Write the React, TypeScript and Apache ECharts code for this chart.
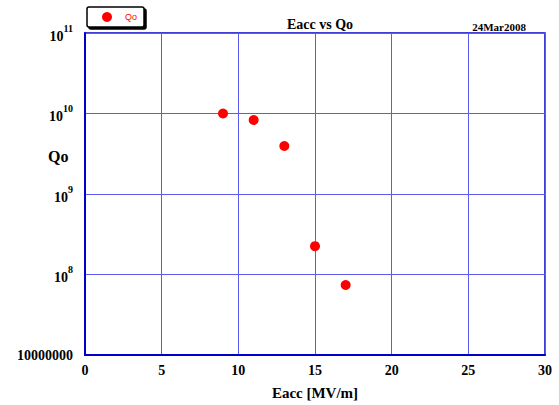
import React, { useEffect, useRef } from "react";
import * as echarts from "echarts";

// Eacc [MV/m] vs Qo measurements
const eacc = [9, 11, 13, 15, 17];
const qo = [1.0e10, 8.3e9, 3.95e9, 2.25e8, 7.4e7];
const seriesName = "Qo";
const titleText = "Eacc vs Qo";
const dateText = "24Mar2008";
const xName = "Eacc [MV/m]";
const yName = "Qo";

const blue = "#0000cc";
const gridBlue = "#5b5bf0";
const serif = "'Liberation Serif', 'Times New Roman', serif";

function yLabel(v: number): string {
  const e = Math.round(Math.log10(v));
  if (e === 7) return "10000000";
  return "{b|10}{s|" + e + "}";
}

export default function App() {
  const ref = useRef<HTMLDivElement>(null);
  useEffect(() => {
    if (!ref.current) return;
    const chart = echarts.init(ref.current, null, { renderer: "svg" });
    chart.setOption({
      animation: false,
      backgroundColor: "#ffffff",
      grid: {
        left: 85,
        right: 14,
        top: 33,
        bottom: 48,
        containLabel: false,
        show: true,
        borderColor: blue,
        borderWidth: 1.5,
      },
      title: [
        {
          text: titleText,
          left: 315,
          top: 12,
          textAlign: "center",
          textStyle: { fontFamily: serif, fontSize: 14, fontWeight: "bold", color: "#000" },
        },
        {
          text: dateText,
          left: 494,
          top: 16,
          textAlign: "center",
          textStyle: { fontFamily: serif, fontSize: 11, fontWeight: "bold", color: "#000" },
        },
      ],
      graphic: [
        {
          type: "text",
          left: 48,
          top: 148,
          style: { text: yName, fontFamily: serif, fontSize: 16, fontWeight: "bold", fill: "#000" },
        },
      ],
      legend: {
        left: 87,
        top: 7,
        data: [seriesName],
        icon: "circle",
        itemWidth: 10,
        itemHeight: 10,
        itemGap: 4,
        padding: [5, 7, 5, 15],
        backgroundColor: "#ffffff",
        borderColor: "#000",
        borderWidth: 1.5,
        borderRadius: 2,
        shadowColor: "#000",
        shadowOffsetX: 2,
        shadowOffsetY: 2,
        shadowBlur: 0,
        textStyle: { color: "#ff0000", fontSize: 9, fontFamily: "'Liberation Sans', Arial, sans-serif", padding: [0, 0, 0, 8] },
      },
      xAxis: {
        type: "value",
        min: 0,
        max: 30,
        interval: 5,
        name: xName,
        nameLocation: "middle",
        nameGap: 30,
        nameTextStyle: { fontFamily: serif, fontSize: 15, fontWeight: "bold", color: "#000" },
        axisLine: { show: true, lineStyle: { color: blue, width: 2 } },
        axisTick: { show: false },
        axisLabel: { fontFamily: serif, fontSize: 14, fontWeight: "bold", color: "#000", margin: 8 },
        splitLine: { show: true, lineStyle: { color: gridBlue, type: "solid", width: 1 } },
      },
      yAxis: {
        type: "log",
        logBase: 10,
        min: 1e7,
        max: 1e11,
        axisLine: { show: true, lineStyle: { color: blue, width: 2 } },
        axisTick: { show: false },
        axisLabel: {
          margin: 12,
          formatter: yLabel,
          fontFamily: serif,
          fontSize: 14,
          fontWeight: "bold",
          color: "#000",
          rich: {
            b: { fontFamily: serif, fontSize: 14, fontWeight: "bold", color: "#000", verticalAlign: "bottom" },
            s: { fontFamily: serif, fontSize: 10, fontWeight: "bold", color: "#000", verticalAlign: "top", padding: [0, 0, 10, 0] },
          },
        },
        splitLine: { show: true, lineStyle: { color: gridBlue, type: "solid", width: 1 } },
      },
      series: [
        {
          name: seriesName,
          type: "scatter",
          data: eacc.map((x, i) => [x, qo[i]]),
          symbol: "circle",
          symbolSize: 10,
          itemStyle: { color: "#ff0000", opacity: 1 },
        },
      ],
    });
    return () => chart.dispose();
  }, []);
  return <div ref={ref} style={{ width: 559, height: 405, position: "absolute", left: 0, top: 0 }} />;
}
